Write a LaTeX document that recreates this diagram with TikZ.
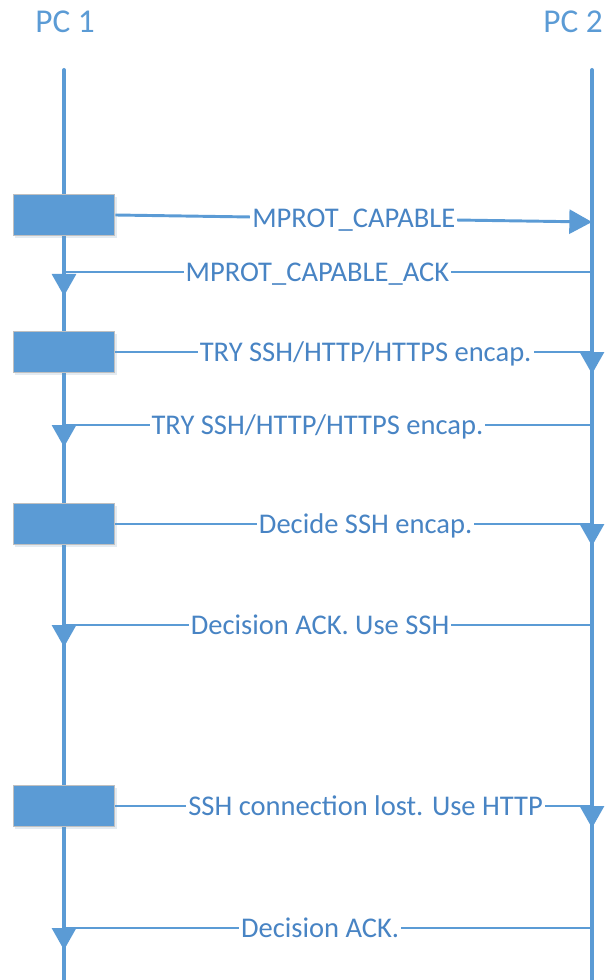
\documentclass[tikz,border=0pt]{standalone}
\usepackage{fontspec}
\setmainfont{Carlito}
\usetikzlibrary{arrows.meta,shadows}
\definecolor{seqblue}{RGB}{91,155,213}
\definecolor{lblblue}{RGB}{72,132,196}
\definecolor{edgegray}{RGB}{192,192,192}

\begin{document}
\begin{tikzpicture}[x=0.75pt,y=0.75pt,yscale=-1,xscale=1,
  lifeline/.style={draw=seqblue,line width=3pt},
  msg/.style={draw=seqblue,line width=2.2pt},
  tipdown/.style={-{Triangle[length=16.5pt,width=18pt]}},
  tipright/.style={-{Triangle[length=17pt,width=18pt]}},
  pcname/.style={text=seqblue,font=\fontsize{25}{30}\selectfont},
  msglbl/.style={fill=white,text=lblblue,inner xsep=1.5pt,inner ysep=2pt,
    text height=13.8pt,text depth=0pt,font=\fontsize{21.4}{25}\selectfont},
  stepbox/.style={fill=seqblue,draw=edgegray,line width=1.2pt,
    minimum width=76pt,minimum height=31pt,inner sep=0pt,
    drop shadow={shadow xshift=1.5pt,shadow yshift=-2pt,opacity=.18,fill=seqblue!60!gray}}]
\useasboundingbox (0,0) rectangle (605,980);

%Headers
\node[pcname] (pc1) at (65,22) {PC 1};
\node[pcname] (pc2) at (573,22) {PC 2};

%Lifelines
\coordinate (pc1top) at (64,70);
\coordinate (pc1bot) at (64,980);
\coordinate (pc2top) at (592,70);
\coordinate (pc2bot) at (592,980);
\draw[lifeline,line cap=round] (pc1top) -- (pc1bot);
\draw[lifeline,line cap=round] (pc2top) -- (pc2bot);

%Activation boxes on PC 1
\node[stepbox] (act1) at (64,215) {};
\node[stepbox] (act2) at (64,352) {};
\node[stepbox] (act3) at (64,524) {};
\node[stepbox] (act4) at (64,806) {};

%Message ends on the lifelines
\coordinate (m1) at (592,222);
\coordinate (m2) at (592,352);
\coordinate (m3) at (592,524);
\coordinate (m4) at (592,806);
\coordinate (r1a) at (592,272);
\coordinate (r1b) at (64,272);
\coordinate (r2a) at (592,425);
\coordinate (r2b) at (64,425);
\coordinate (r3a) at (592,625);
\coordinate (r3b) at (64,625);
\coordinate (r4a) at (592,928);
\coordinate (r4b) at (64,928);

%PC 1 to PC 2
\draw[msg,tipright] (act1.east) -- node[msglbl,pos=0.5] {MPROT\_CAPABLE} (m1);
\draw[msg,tipdown] (act2.east) -- node[msglbl,pos=0.525] {TRY SSH/HTTP/HTTPS encap.} (m2) -- ++(0,22);
\draw[msg,tipdown] (act3.east) -- node[msglbl,pos=0.525] {Decide SSH encap.} (m3) -- ++(0,22);
\draw[msg,tipdown] (act4.east) -- node[msglbl,pos=0.525] {SSH connection lost. Use HTTP} (m4) -- ++(0,22);

%PC 2 to PC 1
\draw[msg,tipdown] (r1a) -- node[msglbl,pos=0.52] {MPROT\_CAPABLE\_ACK} (r1b) -- ++(0,24);
\draw[msg,tipdown] (r2a) -- node[msglbl,pos=0.52] {TRY SSH/HTTP/HTTPS encap.} (r2b) -- ++(0,22);
\draw[msg,tipdown] (r3a) -- node[msglbl,pos=0.515] {Decision ACK. Use SSH} (r3b) -- ++(0,22);
\draw[msg,tipdown] (r4a) -- node[msglbl,pos=0.515] {Decision ACK.} (r4b) -- ++(0,22);
\end{tikzpicture}
\end{document}
